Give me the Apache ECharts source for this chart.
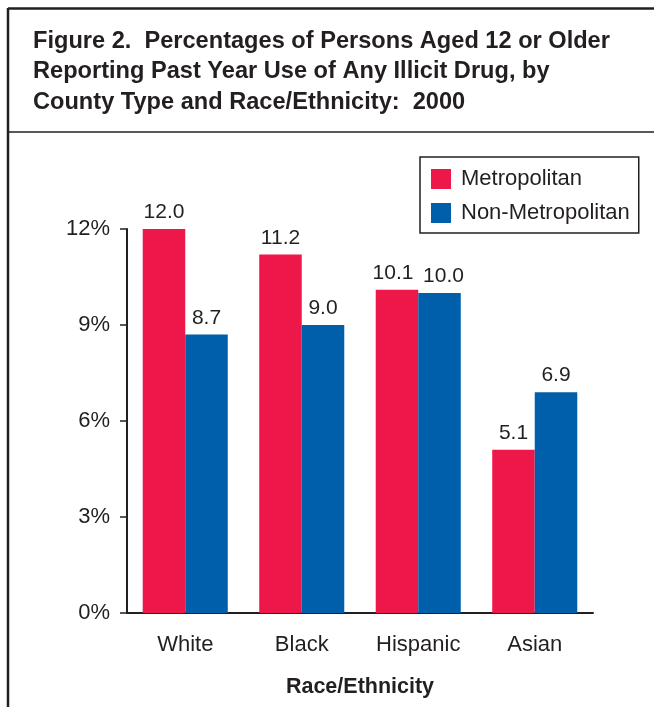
<!DOCTYPE html>
<html>
<head>
<meta charset="utf-8">
<style>
  html, body { margin: 0; padding: 0; background: #fff; }
  #chart { width: 654px; height: 707px; }
</style>
<script src="https://cdn.jsdelivr.net/npm/echarts@6/dist/echarts.min.js"></script>
</head>
<body>
<div id="chart"></div>
<script>
// Past-year illicit drug use by county type and race/ethnicity, 2000
const categories = ['White', 'Black', 'Hispanic', 'Asian'];
const metropolitan = [12.0, 11.2, 10.1, 5.1];
const nonMetropolitan = [8.7, 9.0, 10.0, 6.9];
const seriesNames = ['Metropolitan', 'Non-Metropolitan'];
const yTicks = [0, 3, 6, 9, 12];
const titleLines = [
  'Figure 2.  Percentages of Persons Aged 12 or Older',
  'Reporting Past Year Use of Any Illicit Drug, by',
  'County Type and Race/Ethnicity:  2000'
];

const FONT = '"Liberation Sans", Arial, Helvetica, sans-serif';
const INK = '#231f20';
const RED = '#ed1849';
const BLUE = '#005faa';
const TEXT_SIZE = 22;

const chart = echarts.init(document.getElementById('chart'), null, { renderer: 'canvas' });

// value labels on top of each bar; nearly equal neighbours are pushed apart a little
function barData(values, side) {
  return values.map((v, i) => {
    const other = side < 0 ? nonMetropolitan[i] : metropolitan[i];
    const close = Math.abs(v - other) < 0.5;
    return close ? { value: v, label: { offset: [side * 4, 0] } } : v;
  });
}

const labelStyle = {
  show: true,
  position: 'top',
  distance: 6,
  color: INK,
  fontFamily: FONT,
  fontSize: 21,
  formatter: p => p.value.toFixed(1)
};

chart.setOption({
  backgroundColor: '#fff',
  animation: false,
  textStyle: { fontFamily: FONT, color: INK },
  graphic: [
    // frame: left edge, top edge, divider under the title
    { type: 'line', shape: { x1: 8, y1: 8, x2: 8, y2: 707 }, style: { stroke: INK, lineWidth: 2.5 } },
    { type: 'line', shape: { x1: 8, y1: 8.5, x2: 654, y2: 8.5 }, style: { stroke: INK, lineWidth: 2.5 } },
    { type: 'line', shape: { x1: 8, y1: 132, x2: 654, y2: 132 }, style: { stroke: INK, lineWidth: 1.5 } },
    ...titleLines.map((t, i) => ({
      type: 'text',
      x: 33,
      y: 41 + i * 30.5,
      style: { text: t, font: 'bold 23.6px ' + FONT, fill: INK, verticalAlign: 'middle' }
    }))
  ],
  legend: {
    orient: 'vertical',
    left: 420,
    top: 157,
    padding: [11, 9, 9, 11],
    itemWidth: 20,
    itemHeight: 20,
    itemGap: 12,
    icon: 'rect',
    borderColor: INK,
    borderWidth: 1.5,
    borderRadius: 0,
    textStyle: { fontFamily: FONT, fontSize: TEXT_SIZE, color: INK, padding: [0, 0, 0, 5] },
    data: seriesNames
  },
  grid: { left: 127, right: 61, top: 229, bottom: 94, containLabel: false },
  xAxis: {
    type: 'category',
    data: categories,
    name: 'Race/Ethnicity',
    nameLocation: 'middle',
    nameGap: 63,
    nameTextStyle: { fontFamily: FONT, fontSize: 21.5, fontWeight: 'bold', color: INK },
    axisLine: { lineStyle: { color: INK, width: 2 } },
    axisTick: { show: false },
    axisLabel: { fontFamily: FONT, fontSize: TEXT_SIZE, color: INK, margin: 21 }
  },
  yAxis: {
    type: 'value',
    min: yTicks[0],
    max: yTicks[yTicks.length - 1],
    interval: 3,
    axisLine: { show: true, lineStyle: { color: INK, width: 2 } },
    axisTick: { show: true, length: 7, lineStyle: { color: INK, width: 1.5 } },
    splitLine: { show: false },
    axisLabel: { fontFamily: FONT, fontSize: TEXT_SIZE, color: INK, margin: 17, formatter: v => v + '%' }
  },
  series: [
    {
      name: seriesNames[0],
      type: 'bar',
      data: barData(metropolitan, -1),
      itemStyle: { color: RED },
      barGap: '0%',
      barCategoryGap: '27%',
      label: labelStyle
    },
    {
      name: seriesNames[1],
      type: 'bar',
      data: barData(nonMetropolitan, 1),
      itemStyle: { color: BLUE },
      label: labelStyle
    }
  ]
});
</script>
</body>
</html>
